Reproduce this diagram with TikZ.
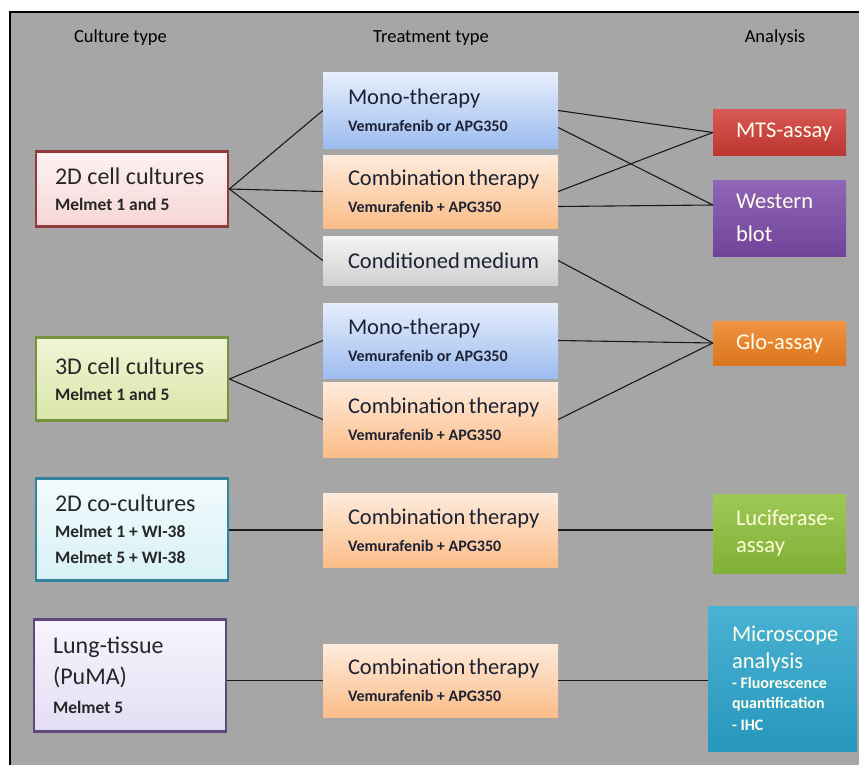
\documentclass[tikz,border=0pt]{standalone}
\usepackage{fontspec}
\setmainfont{Carlito}
\usepackage{xcolor}
\usepackage{tikz}
\hyphenpenalty=10000
\exhyphenpenalty=10000

\definecolor{bggray}{HTML}{A6A6A6}
\definecolor{darktext}{HTML}{1C2233}
\definecolor{pinktop}{HTML}{FDF2F2}
\definecolor{pinkbot}{HTML}{F6D6D6}
\definecolor{pinkline}{HTML}{8E3B3A}
\definecolor{greentop}{HTML}{F0F5D6}
\definecolor{greenbot}{HTML}{D9E5A8}
\definecolor{greenline}{HTML}{77923D}
\definecolor{cyantop}{HTML}{F2FBFD}
\definecolor{cyanbot}{HTML}{D8F1F6}
\definecolor{cyanline}{HTML}{31849B}
\definecolor{lilactop}{HTML}{F7F4FD}
\definecolor{lilacbot}{HTML}{E4DEF4}
\definecolor{lilacline}{HTML}{5F497A}
\definecolor{monotop}{HTML}{E6EEFC}
\definecolor{monobot}{HTML}{9DBCF0}
\definecolor{combtop}{HTML}{FEEBDC}
\definecolor{combbot}{HTML}{FABD88}
\definecolor{condtop}{HTML}{F4F4F4}
\definecolor{condbot}{HTML}{D0D0D0}
\definecolor{mtscol}{HTML}{D13C36}
\definecolor{westcol}{HTML}{7D4BAA}
\definecolor{glocol}{HTML}{EE8020}
\definecolor{luccol}{HTML}{8CBF3A}
\definecolor{microcol}{HTML}{2AA4CC}

\newcommand{\cellsub}[1]{{\bfseries\fontsize{17.5}{21}\selectfont #1}}
\newcommand{\drugsub}[1]{{\bfseries\fontsize{16}{18}\selectfont #1}}
\newcommand{\assaysub}[1]{{\bfseries\fontsize{16}{18}\selectfont #1}}

\begin{document}
\begin{tikzpicture}[x=1pt,y=-1pt,
  culture/.style={draw, line width=2.8pt, align=flush left, text width=154pt, inner xsep=19pt,
    font=\fontsize{24}{26}\selectfont, text=black!85},
  treat/.style={align=flush left, text width=185pt, inner xsep=25pt, inner ysep=0pt,
    font=\fontsize{22.5}{27}\selectfont, text=darktext},
  assay/.style={align=flush left, text width=87pt, inner xsep=23pt, inner ysep=0pt,
    font=\fontsize{22.5}{27}\selectfont, text=white!93!yellow},
  head/.style={anchor=base, font=\fontsize{18.5}{20}\selectfont},
  link/.style={line width=1.1pt, draw=black!90}]
\useasboundingbox (0,0) rectangle (859,765);
% Background panel
\fill[bggray] (10,12) rectangle (880,790);
\draw[line width=1.3pt] (10,790) -- (10,12) -- (880,12);
% Column headings
\node[head] (hcult) at (120.5,43) {Culture type};
\node[head] (htreat) at (431,43) {Treatment type};
\node[head] (hana) at (775,43) {Analysis};
% Culture types
\node[culture, top color=pinktop, bottom color=pinkbot, draw=pinkline, minimum height=75pt]
  (cell2d) at (132,189) {2D~cell~cultures\\\cellsub{Melmet 1 and 5}};
\node[culture, top color=greentop, bottom color=greenbot, draw=greenline, minimum height=83pt]
  (cell3d) at (132,379) {3D~cell~cultures\\\cellsub{Melmet 1 and 5}};
\node[culture, top color=cyantop, bottom color=cyanbot, draw=cyanline, minimum height=102pt]
  (co2d) at (132,529.5) {2D co-cultures\\\cellsub{Melmet 1 + WI-38}\\\cellsub{Melmet 5 + WI-38}};
\node[culture, top color=lilactop, bottom color=lilacbot, draw=lilacline, minimum height=112pt]
  (lung) at (130,675.5) {Lung-tissue\\[5pt](PuMA)\\[3pt]\cellsub{Melmet 5}};
% Treatments
\node[treat, top color=monotop, bottom color=monobot, minimum height=75pt]
  (mono1) at (440.5,110.5) {Mono-therapy\\\drugsub{Vemurafenib or APG350}};
\node[treat, top color=combtop, bottom color=combbot, minimum height=73pt]
  (comb1) at (440.5,191.5) {Combination~therapy\\\drugsub{Vemurafenib + APG350}};
\node[treat, top color=condtop, bottom color=condbot, minimum height=49pt]
  (cond) at (440.5,260.5) {Conditioned~medium};
\node[treat, top color=monotop, bottom color=monobot, minimum height=75pt]
  (mono2) at (440.5,340.5) {Mono-therapy\\\drugsub{Vemurafenib or APG350}};
\node[treat, top color=combtop, bottom color=combbot, minimum height=75pt]
  (comb2) at (440.5,419.5) {Combination~therapy\\\drugsub{Vemurafenib + APG350}};
\node[treat, top color=combtop, bottom color=combbot, minimum height=74pt]
  (comb3) at (440.5,530) {Combination~therapy\\\drugsub{Vemurafenib + APG350}};
\node[treat, top color=combtop, bottom color=combbot, minimum height=73pt]
  (comb4) at (440.5,680.5) {Combination~therapy\\\drugsub{Vemurafenib + APG350}};
% Analyses
\node[assay, top color=mtscol!85!white, bottom color=mtscol!90!black, minimum height=45pt]
  (mts) at (779.5,132.5) {MTS-assay};
\node[assay, top color=westcol!85!white, bottom color=westcol!90!black, minimum height=76pt]
  (western) at (779.5,218) {Western\\[6pt]blot};
\node[assay, top color=glocol!85!white, bottom color=glocol!92!black, minimum height=44pt]
  (glo) at (779.5,343) {Glo-assay};
\node[assay, top color=luccol!85!white, bottom color=luccol!92!black, minimum height=79pt,
  text=yellow!15!white] (luc) at (779.5,533.5) {Luciferase-\\assay};
\node[assay, top color=microcol!85!white, bottom color=microcol!92!black, minimum height=145pt,
  text width=101pt, inner xsep=24pt] (micro) at (782.5,678.5)
  {Microscope\\analysis\\[-7pt]\assaysub{- Fluorescence}\\[-7pt]\assaysub{quantification}\\[-5pt]\assaysub{- IHC}};
\coordinate (wbin) at ([yshift=13pt]western.west);
% Culture -> treatment
\foreach \a/\b in {cell2d/mono1,cell2d/comb1,cell2d/cond,cell3d/mono2,cell3d/comb2}{
  \draw[link] (\a.east) -- (\b.west);
}
\draw[link] (co2d.east |- comb3.west) -- (comb3.west);
\draw[link] (lung.east |- comb4.west) -- (comb4.west);
% Treatment -> analysis
\foreach \a/\b in {mono1/mts,comb1/mts,cond/glo,mono2/glo,comb2/glo}{
  \draw[link] (\a.east) -- (\b.west);
}
\draw[link] ([yshift=-17pt]mono1.east) -- (wbin);
\draw[link] ([yshift=-15pt]comb1.east) -- (wbin);
\draw[link] (comb3.east) -- (comb3.east -| luc.west);
\draw[link] (comb4.east) -- (comb4.east -| micro.west);
\end{tikzpicture}
\end{document}
